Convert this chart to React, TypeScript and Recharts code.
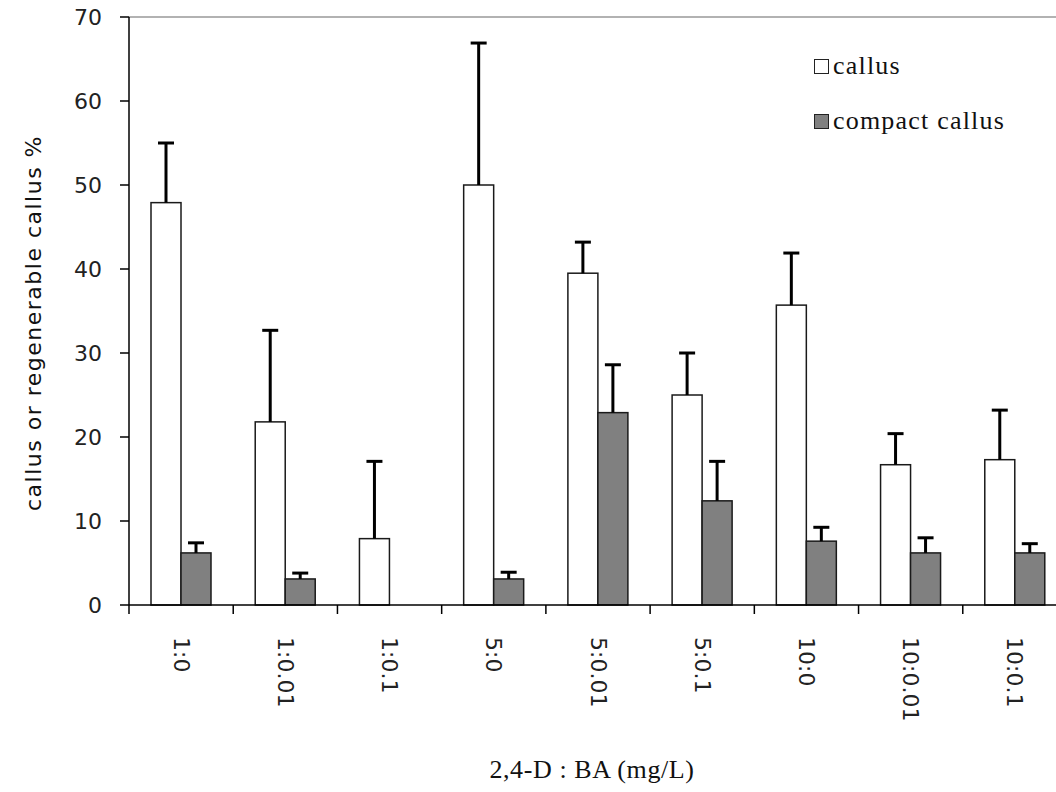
import React from "react";
import {
  Bar,
  BarChart,
  Legend,
  ReferenceLine,
  XAxis,
  YAxis,
} from "recharts";

// 2,4-D : BA combinations (mg/L)
const categories = ["1:0", "1:0.01", "1:0.1", "5:0", "5:0.01", "5:0.1", "10:0", "10:0.01", "10:0.1"];
const callus = [47.9, 21.8, 7.9, 50.0, 39.5, 25.0, 35.7, 16.7, 17.3];
const callusErr = [7.1, 10.9, 9.2, 16.9, 3.7, 5.0, 6.2, 3.7, 5.9];
const compact = [6.2, 3.1, 0, 3.1, 22.9, 12.4, 7.6, 6.2, 6.2];
const compactErr = [1.2, 0.7, 0, 0.8, 5.7, 4.7, 1.65, 1.8, 1.1];
const yTicks = [0, 10, 20, 30, 40, 50, 60, 70];

const data = categories.map((treatment, i) => ({
  treatment,
  callus: callus[i],
  callusErr: callusErr[i],
  compact: compact[i],
  compactErr: compactErr[i],
}));

const SANS = "'DejaVu Sans', Verdana, sans-serif";
const SERIF = "'Liberation Serif', 'Times New Roman', serif";
const LABEL_GAP = 32; // axis line -> start of rotated category label
const EDGE_TICK = 9;

/* bar + one-sided (upper) error bar, scaled from the bar's own px/unit */
function ErrBarShape(props: any) {
  const { x, y, width, height, fill, payload, valueKey, errKey } = props;
  const v = payload[valueKey];
  if (!v || height <= 0) return null;
  const ppu = height / v;
  const cx = x + width / 2;
  const top = y - payload[errKey] * ppu;
  return (
    <g>
      <rect x={x} y={y} width={width} height={height} fill={fill} stroke="#1a1a1a" strokeWidth={1.5} />
      <line x1={cx} y1={y} x2={cx} y2={top} stroke="#000" strokeWidth={3} />
      <line x1={cx - 8} y1={top} x2={cx + 8} y2={top} stroke="#000" strokeWidth={3} />
    </g>
  );
}

/* rotated category label, plus tick marks on the band edges (Excel style) */
function RotatedTick(props: any) {
  const { x, y, payload, index } = props;
  const half = payload.offset || 0;
  const axisY = y - LABEL_GAP;
  return (
    <g>
      <line x1={x - half} y1={axisY} x2={x - half} y2={axisY + EDGE_TICK} stroke="#000" strokeWidth={1.5} />
      {index === categories.length - 1 && (
        <line x1={x + half} y1={axisY} x2={x + half} y2={axisY + EDGE_TICK} stroke="#000" strokeWidth={1.5} />
      )}
      <text
        x={x}
        y={y}
        transform={`rotate(90, ${x}, ${y})`}
        textAnchor="start"
        dominantBaseline="central"
        fontFamily={SANS}
        fontSize={22}
        fill="#222"
      >
        {payload.value}
      </text>
    </g>
  );
}

function LegendBox() {
  const items = [
    { name: "callus", fill: "#ffffff" },
    { name: "compact callus", fill: "#808080" },
  ];
  return (
    <div>
      {items.map((it) => (
        <div key={it.name} style={{ display: "flex", alignItems: "center", height: 30, marginBottom: 25 }}>
          <span
            style={{
              display: "inline-block",
              width: 13,
              height: 13,
              border: "1.5px solid #222",
              background: it.fill,
            }}
          />
          <span
            style={{ fontFamily: SERIF, fontSize: 26, color: "#111", marginLeft: 4, letterSpacing: 1.2 }}
          >
            {it.name}
          </span>
        </div>
      ))}
    </div>
  );
}

export default function App() {
  return (
    <div style={{ position: "fixed", left: 0, top: 0, width: 1056, height: 792, overflow: "hidden", background: "#fff" }}>
      <BarChart
        width={1080}
        height={792}
        data={data}
        margin={{ top: 17, right: 13, bottom: 0, left: 0 }}
        barCategoryGap={22}
        barGap={0}
      >
        <XAxis
          dataKey="treatment"
          height={187}
          axisLine={{ stroke: "#000", strokeWidth: 1.5 }}
          tickLine={false}
          tickSize={0}
          tickMargin={LABEL_GAP}
          interval={0}
          tick={<RotatedTick />}
          label={{
            content: ({ viewBox }: any) => (
              <text
                x={viewBox.x + viewBox.width / 2 - 6}
                y={778}
                textAnchor="middle"
                fontFamily={SERIF}
                fontSize={26}
                letterSpacing={0.6}
                fill="#111"
              >
                2,4-D : BA (mg/L)
              </text>
            ),
          }}
        />
        <YAxis
          width={129}
          domain={[0, 70]}
          ticks={yTicks}
          interval={0}
          tickSize={9}
          tickMargin={18}
          tick={{ fontFamily: SANS, fontSize: 22, fill: "#222" }}
          axisLine={{ stroke: "#000", strokeWidth: 1.5 }}
          tickLine={{ stroke: "#000", strokeWidth: 1.5 }}
          label={{
            content: ({ viewBox }: any) => {
              const lx = viewBox.x + 33;
              const ly = viewBox.y + viewBox.height / 2 + 12;
              return (
                <text
                  x={lx}
                  y={ly}
                  transform={`rotate(-90, ${lx}, ${ly})`}
                  textAnchor="middle"
                  dominantBaseline="central"
                  fontFamily={SANS}
                  fontSize={22}
                  letterSpacing={1.5}
                  fill="#111"
                >
                  callus or regenerable callus %
                </text>
              );
            },
          }}
        />
        <ReferenceLine y={70} stroke="#999" strokeWidth={1.5} />
        <Legend
          layout="vertical"
          align="center"
          verticalAlign="middle"
          content={<LegendBox />}
          wrapperStyle={{ left: 814, top: 51, width: 240 }}
        />
        <Bar
          dataKey="callus"
          name="callus"
          fill="#ffffff"
          isAnimationActive={false}
          shape={(p: any) => <ErrBarShape {...p} valueKey="callus" errKey="callusErr" />}
        />
        <Bar
          dataKey="compact"
          name="compact callus"
          fill="#808080"
          isAnimationActive={false}
          shape={(p: any) => <ErrBarShape {...p} valueKey="compact" errKey="compactErr" />}
        />
      </BarChart>
    </div>
  );
}
